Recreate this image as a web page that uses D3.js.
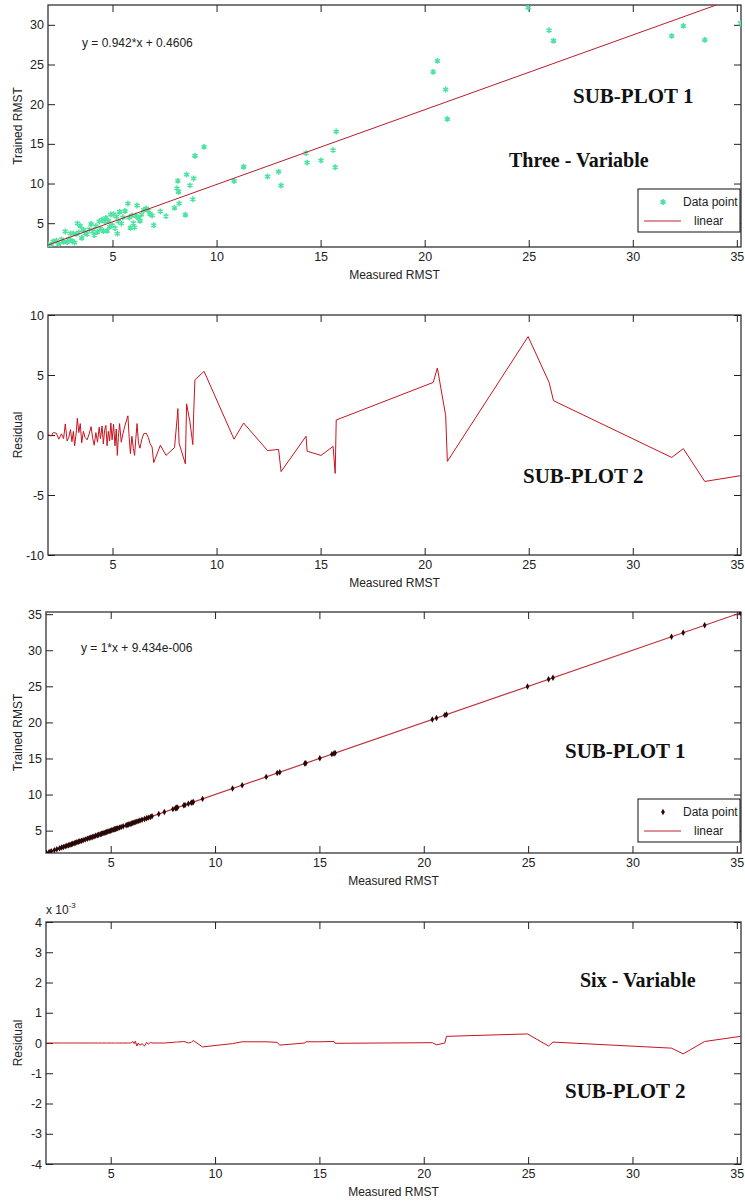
<!DOCTYPE html>
<html>
<head>
<meta charset="utf-8">
<script src="https://cdn.jsdelivr.net/npm/d3@7"></script>
<style>
  body{margin:0;background:#fff;}
  svg text{font-family:"Liberation Sans",Arial,sans-serif;}
  .note{font-family:"Liberation Serif","Times New Roman",serif !important;font-weight:bold;fill:#111;}
</style>
</head>
<body>
<div id="chart"></div>
<script>
// measured RMST, sorted (same x for every panel)
var measured = [1.92,2.05,2.15,2.3,2.42,2.55,2.65,2.73,2.82,2.9,2.98,3.05,3.12,3.18,3.25,3.31,3.38,3.45,3.52,3.6,
  3.68,3.78,3.88,3.97,4.05,4.12,4.2,4.28,4.36,4.42,4.5,4.56,4.62,4.68,4.74,4.8,4.86,4.92,4.98,5.05,
  5.12,5.18,5.23,5.28,5.34,5.42,5.5,5.6,5.74,5.8,5.86,5.93,6.0,6.06,6.12,6.18,6.25,6.32,6.4,6.5,
  6.62,6.72,6.8,6.9,6.98,7.3,7.57,7.98,8.1,8.14,8.17,8.2,8.5,8.56,8.72,8.86,8.9,8.96,9.4,10.84,
  11.3,12.45,12.98,13.1,14.3,14.35,15.02,15.6,15.7,15.75,20.41,20.61,21.01,21.09,24.97,25.98,26.19,31.87,32.43,33.46,35.18];
// three-variable model: trained RMST and residual
var trained3 = [2.32,2.29,2.69,2.78,2.39,2.96,2.66,3.95,2.62,2.99,3.72,2.78,3.70,2.56,3.62,4.98,3.84,4.66,3.13,4.15,
  3.73,3.62,4.22,4.90,3.98,3.49,4.62,3.89,5.22,4.32,5.45,4.01,5.21,5.67,4.03,5.28,4.54,6.10,4.75,6.12,
  4.38,5.84,3.69,5.23,6.44,4.97,5.74,6.54,7.47,5.72,4.43,5.95,5.01,4.47,5.93,7.23,5.65,5.31,6.09,6.68,
  6.85,6.59,6.17,5.96,4.74,6.49,5.89,6.93,9.39,10.33,8.96,7.49,6.07,11.12,9.77,8.01,10.64,13.50,14.62,10.32,
  12.11,10.89,11.49,9.75,13.83,12.63,12.91,14.21,12.05,16.55,24.07,25.46,21.85,18.13,32.18,29.31,27.99,28.61,29.87,28.11,30.2];
var resid3 = [0.05,-0.1,0.2,0.15,-0.35,0.1,-0.3,0.92,-0.5,-0.2,0.45,-0.55,0.3,-0.9,0.1,1.4,0.2,0.95,-0.65,0.3,
  -0.2,-0.4,0.1,0.7,-0.3,-0.85,0.2,-0.6,0.65,-0.3,0.75,-0.75,0.4,0.8,-0.9,0.3,-0.5,1.0,-0.4,0.9,
  -0.9,0.5,-1.7,-0.2,0.95,-0.6,0.1,0.8,1.6,-0.2,-1.55,-0.1,-1.1,-1.7,-0.3,0.95,-0.7,-1.1,-0.4,0.1,
  0.15,-0.2,-0.7,-1.0,-2.3,-0.85,-1.7,-1.05,1.3,2.2,0.8,-0.7,-2.4,2.6,1.1,-0.8,1.8,4.6,5.3,-0.35,
  1.0,-1.3,-1.2,-3.05,-0.1,-1.35,-1.7,-0.95,-3.2,1.25,4.38,5.58,1.6,-2.2,8.2,4.38,2.86,-1.87,-1.14,-3.87,-3.39];
// six-variable model: trained RMST and residual (x 10^-3)
var trained6 = [1.92,2.05,2.15,2.3,2.42,2.55,2.65,2.73,2.82,2.9,2.98,3.05,3.12,3.18,3.25,3.31,3.38,3.45,3.52,3.6,
  3.68,3.78,3.88,3.97,4.05,4.12,4.2,4.28,4.36,4.42,4.5,4.56,4.62,4.68,4.74,4.8,4.86,4.92,4.98,5.05,
  5.12,5.18,5.23,5.28,5.34,5.42,5.5,5.6,5.74,5.8,5.86,5.93,6.0,6.06,6.12,6.18,6.25,6.32,6.4,6.5,
  6.62,6.72,6.8,6.9,6.98,7.3,7.57,7.98,8.1,8.14,8.17,8.2,8.5,8.56,8.72,8.86,8.9,8.96,9.4,10.84,
  11.3,12.45,12.98,13.1,14.3,14.35,15.02,15.6,15.7,15.75,20.41,20.61,21.01,21.09,24.97,25.98,26.19,31.87,32.43,33.46,35.18];
var resid6 = [0,0,0,0,0,0,0,0,0,0,0,0,0,0,0,0,0,0,0,0,
  0,0,0,0,0,0,0,0,0,0,0,0,0,0,0,0,0,0,0,0,
  0,0,0,0,0,0,0,0,0,0,0,0,0.01,0.05,-0.02,0.06,-0.1,0,-0.08,-0.02,
  -0.1,0.02,-0.04,0.02,0,0,0,0.02,0.03,0.04,0.02,0.03,0.05,0.04,0,0.02,0.05,0.08,-0.13,-0.02,
  0.04,0.04,0.02,-0.07,0,0.04,0.04,0.05,0.05,-0.01,0.01,-0.06,0,0.22,0.3,-0.1,0.03,-0.17,-0.36,0.05,0.22];

// fitted lines (from equations printed on the plots)
var fit3 = {slope:0.942, intercept:0.4606, label:"y = 0.942*x + 0.4606"};
var fit6 = {slope:1, intercept:9.434e-006, label:"y = 1*x + 9.434e-006"};

var xDomain = [1.9, 35.2];
var xTicks = [5,10,15,20,25,30,35];
var yTicks1 = [5,10,15,20,25,30];
var yTicks2 = [-10,-5,0,5,10];
var yTicks3 = [5,10,15,20,25,30,35];
var yTicks4 = [-4,-3,-2,-1,0,1,2,3,4];

var W = 745, H = 1202;
var svg = d3.select("#chart").append("svg").attr("width", W).attr("height", H);
var fmt = function(d){ return String(d); };

function panel(box, yDomain, yTicks, yLabel, id) {
  var x = d3.scaleLinear().domain(xDomain).range([box.left, box.right]);
  var y = d3.scaleLinear().domain(yDomain).range([box.bottom, box.top]);
  var g = svg.append("g");
  svg.append("clipPath").attr("id", id).append("rect")
    .attr("x", box.left).attr("y", box.top)
    .attr("width", box.right - box.left).attr("height", box.bottom - box.top);
  // ticks inside on all four sides (matlab style)
  var bx = g.append("g").attr("transform", "translate(0," + box.bottom + ")")
    .call(d3.axisBottom(x).tickValues(xTicks).tickFormat(fmt).tickSizeInner(-7).tickSizeOuter(0).tickPadding(5));
  var tx = g.append("g").attr("transform", "translate(0," + box.top + ")")
    .call(d3.axisTop(x).tickValues(xTicks).tickFormat("").tickSizeInner(-7).tickSizeOuter(0));
  var ly = g.append("g").attr("transform", "translate(" + box.left + ",0)")
    .call(d3.axisLeft(y).tickValues(yTicks).tickFormat(fmt).tickSizeInner(-7).tickSizeOuter(0).tickPadding(4));
  var ry = g.append("g").attr("transform", "translate(" + box.right + ",0)")
    .call(d3.axisRight(y).tickValues(yTicks).tickFormat("").tickSizeInner(-7).tickSizeOuter(0));
  [bx, tx, ly, ry].forEach(function(a){
    a.select(".domain").remove();
    a.selectAll("line").attr("stroke", "#222");
    a.selectAll("text").attr("font-size", 12.5).attr("fill", "#222")
      .attr("font-family", "'Liberation Sans',Arial,sans-serif");
  });
  g.append("rect").attr("x", box.left).attr("y", box.top)
    .attr("width", box.right - box.left).attr("height", box.bottom - box.top)
    .attr("fill", "none").attr("stroke", "#222").attr("stroke-width", 1.2);
  g.append("text").attr("x", (box.left + box.right) / 2).attr("y", box.bottom + 32)
    .attr("text-anchor", "middle").attr("font-size", 12).attr("fill", "#222").text("Measured RMST");
  g.append("text").attr("transform", "translate(18," + ((box.top + box.bottom) / 2) + ") rotate(-90)")
    .attr("text-anchor", "middle").attr("dy", "0.35em").attr("font-size", 12).attr("fill", "#222").text(yLabel);
  return {x:x, y:y, g:g, clip:"url(#" + id + ")"};
}

function legend(p, lx, ly, symbolFn) {
  var lg = svg.append("g").attr("transform", "translate(" + lx + "," + ly + ")");
  lg.append("rect").attr("width", 102).attr("height", 43).attr("fill", "#fff").attr("stroke", "#111");
  symbolFn(lg.append("g").attr("transform", "translate(25,13)"));
  lg.append("text").attr("x", 45).attr("y", 13).attr("dy", "0.35em").attr("font-size", 12).attr("fill", "#222").text("Data point");
  lg.append("line").attr("x1", 6).attr("x2", 43).attr("y1", 32).attr("y2", 32).attr("stroke", "#c0202c");
  lg.append("text").attr("x", 56).attr("y", 32).attr("dy", "0.35em").attr("font-size", 12).attr("fill", "#222").text("linear");
}

function note(txt, x, y, size) {
  svg.append("text").attr("class", "note").attr("x", x).attr("y", y).attr("font-size", size || 20).text(txt);
}

var star = d3.symbol().type(d3.symbolAsterisk).size(24);
var diamond = d3.symbol().type(d3.symbolDiamond).size(12);
var pts = measured.map(function(m, i){ return {m:m, t3:trained3[i], r3:resid3[i], t6:trained6[i], r6:resid6[i]}; });

// ---- panel 1: three-variable regression
var p1 = panel({top:5, bottom:247, left:48, right:741}, [2, 32.5], yTicks1, "Trained RMST", "c1");
p1.g.append("g").attr("clip-path", p1.clip).selectAll("path").data(pts).enter().append("path")
  .attr("d", star).attr("transform", function(d){ return "translate(" + p1.x(d.m) + "," + p1.y(d.t3) + ")"; })
  .attr("fill", "none").attr("stroke", "#4fe3a2").attr("stroke-width", 1.6);
p1.g.append("line").attr("clip-path", p1.clip)
  .attr("x1", p1.x(xDomain[0])).attr("y1", p1.y(fit3.slope * xDomain[0] + fit3.intercept))
  .attr("x2", p1.x(xDomain[1])).attr("y2", p1.y(fit3.slope * xDomain[1] + fit3.intercept))
  .attr("stroke", "#b81c2c").attr("stroke-width", 1);
svg.append("text").attr("x", 82).attr("y", 43).attr("dy", "0.35em").attr("font-size", 12).attr("fill", "#222").text(fit3.label);
legend(p1, 638, 189, function(s){ s.append("path").attr("d", star).attr("fill", "none").attr("stroke", "#4fe3a2").attr("stroke-width", 1.6); });
note("SUB-PLOT 1", 573, 103, 21);
note("Three - Variable", 509, 167);

// ---- panel 2: three-variable residual
var p2 = panel({top:315, bottom:555, left:48, right:741}, [-10, 10], yTicks2, "Residual", "c2");
p2.g.append("path").datum(pts).attr("clip-path", p2.clip)
  .attr("d", d3.line().x(function(d){ return p2.x(d.m); }).y(function(d){ return p2.y(d.r3); }))
  .attr("fill", "none").attr("stroke", "#c8141e").attr("stroke-width", 1);
note("SUB-PLOT 2", 523, 483, 21);

// ---- panel 3: six-variable regression
var p3 = panel({top:612, bottom:853, left:46, right:741}, [1.9, 35.3], yTicks3, "Trained RMST", "c3");
p3.g.append("line").attr("clip-path", p3.clip)
  .attr("x1", p3.x(xDomain[0])).attr("y1", p3.y(fit6.slope * xDomain[0] + fit6.intercept))
  .attr("x2", p3.x(xDomain[1])).attr("y2", p3.y(fit6.slope * xDomain[1] + fit6.intercept))
  .attr("stroke", "#c0303a").attr("stroke-width", 1.2);
p3.g.append("g").attr("clip-path", p3.clip).selectAll("path").data(pts).enter().append("path")
  .attr("d", diamond).attr("transform", function(d){ return "translate(" + p3.x(d.m) + "," + p3.y(d.t6) + ")"; })
  .attr("fill", "#2a0606");
svg.append("text").attr("x", 81).attr("y", 648).attr("dy", "0.35em").attr("font-size", 12).attr("fill", "#222").text(fit6.label);
legend(p3, 638, 799, function(s){ s.append("path").attr("d", diamond).attr("fill", "#2a0606"); });
note("SUB-PLOT 1", 565, 758, 21);

// ---- panel 4: six-variable residual (x 10^-3)
var p4 = panel({top:922, bottom:1164, left:46, right:741}, [-4, 4], yTicks4, "Residual", "c4");
p4.g.append("path").datum(pts).attr("clip-path", p4.clip)
  .attr("d", d3.line().x(function(d){ return p4.x(d.m); }).y(function(d){ return p4.y(d.r6); }))
  .attr("fill", "none").attr("stroke", "#c8141e").attr("stroke-width", 1);
var ex = svg.append("text").attr("x", 46).attr("y", 914).attr("font-size", 12).attr("fill", "#222").text("x 10");
ex.append("tspan").attr("dy", -6).attr("font-size", 8).text("-3");
note("Six - Variable", 580, 987);
note("SUB-PLOT 2", 565, 1098, 21);
</script>
</body>
</html>
